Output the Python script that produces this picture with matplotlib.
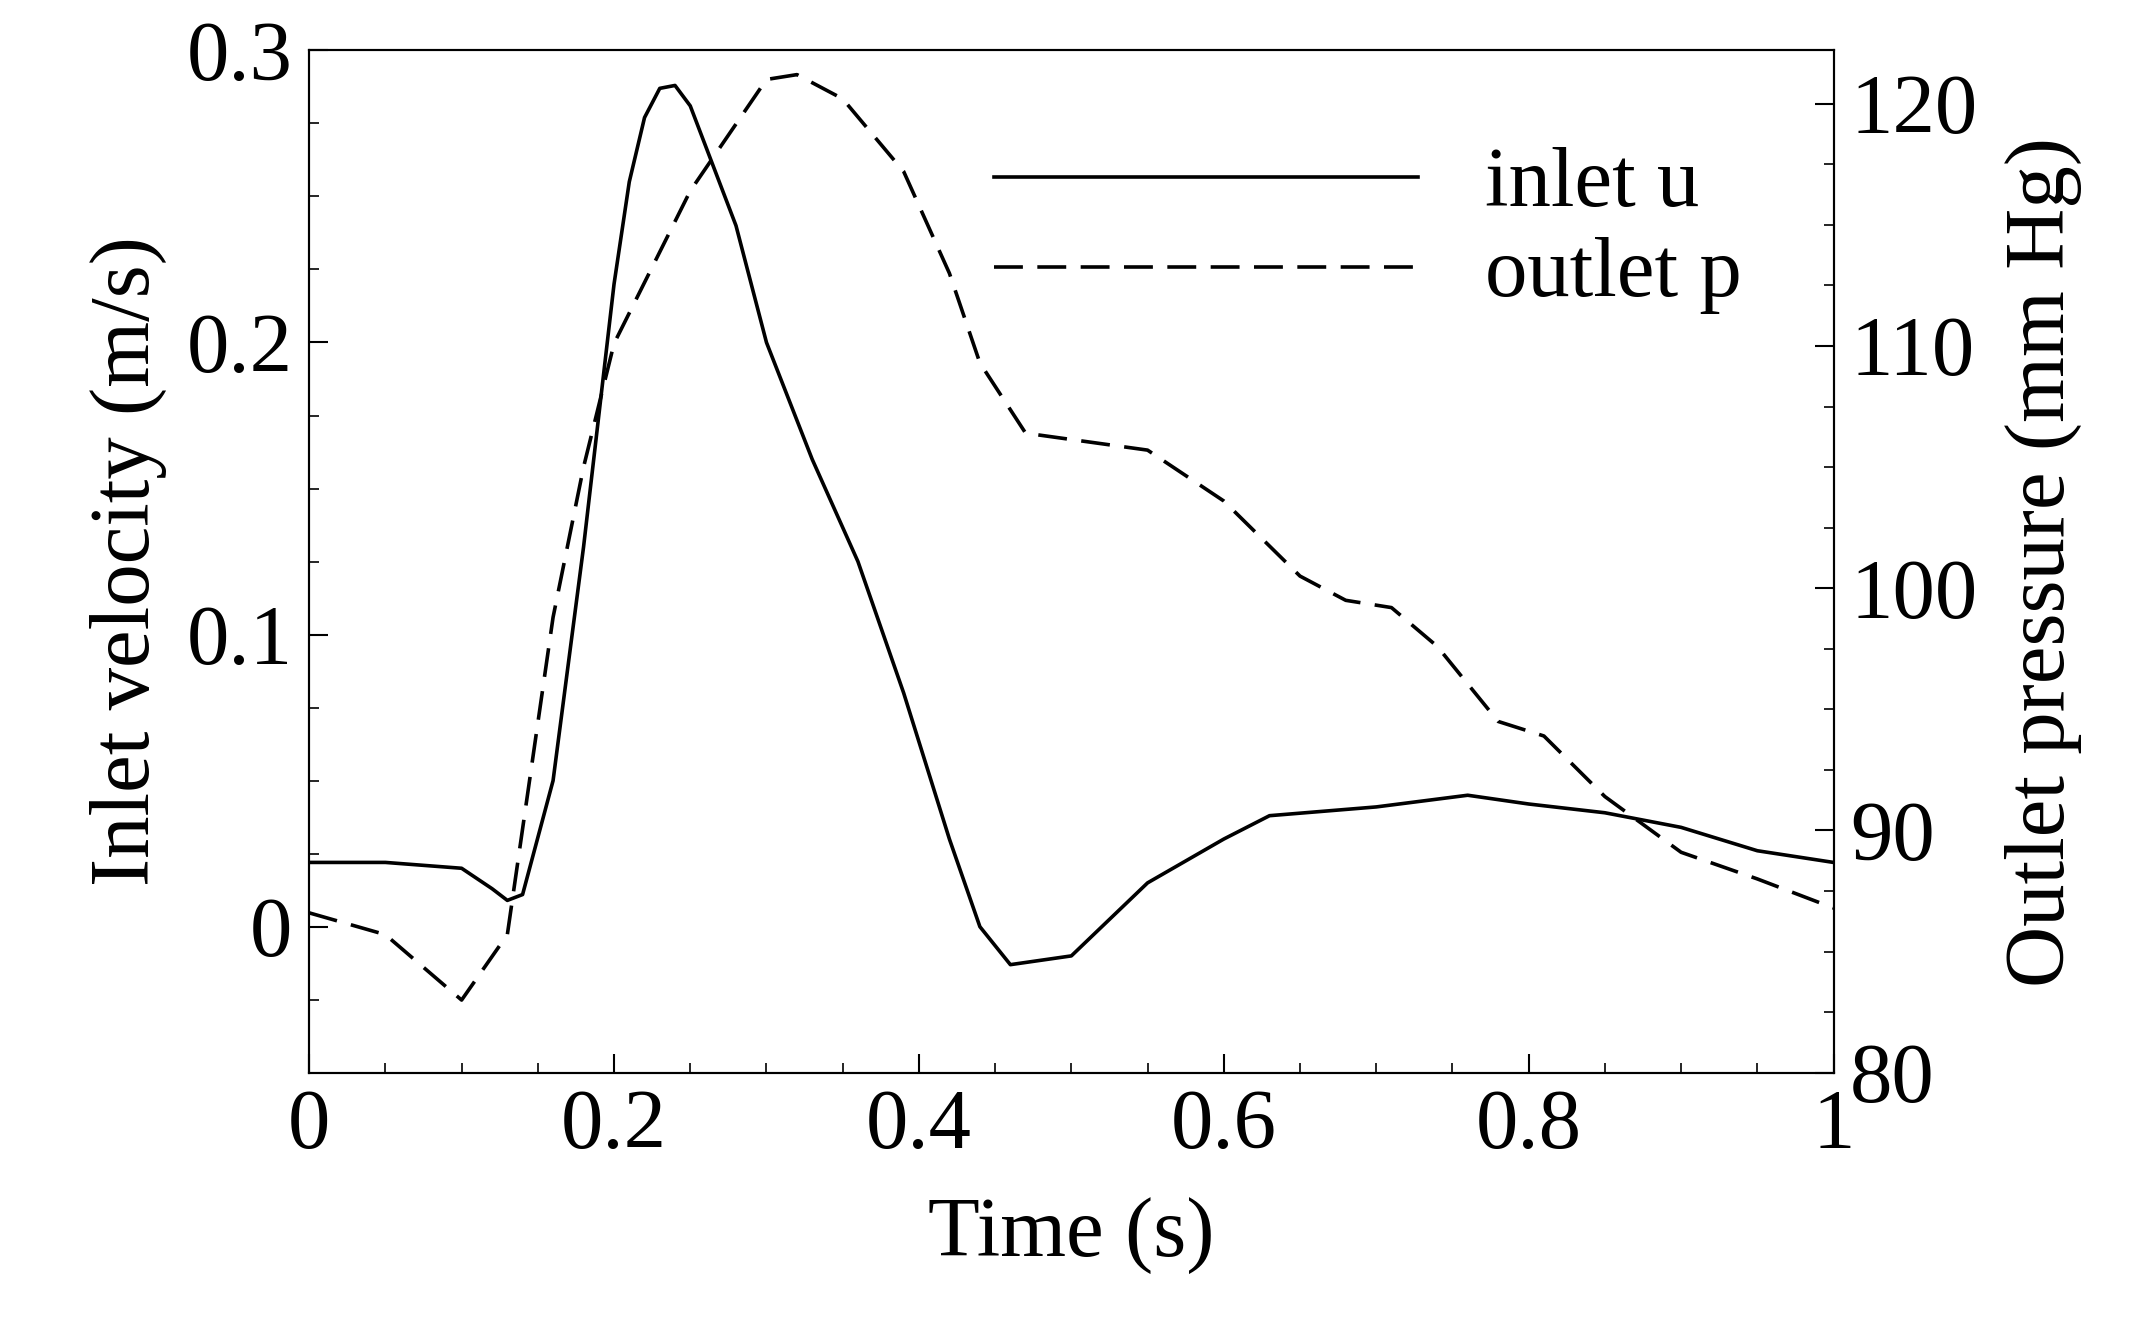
import matplotlib
matplotlib.use('Agg')
import matplotlib.pyplot as plt
from matplotlib.ticker import MultipleLocator, FormatStrFormatter

plt.rcParams['font.family'] = ['Liberation Serif', 'DejaVu Serif']

# ── Data ──────────────────────────────────────────────────────────────────────
t_u = [0.0, 0.05, 0.1, 0.12, 0.13, 0.14, 0.16, 0.18, 0.2, 0.21, 0.22, 0.23,
       0.24, 0.25, 0.28, 0.3, 0.33, 0.36, 0.39, 0.42, 0.44, 0.46, 0.5, 0.55,
       0.6, 0.63, 0.7, 0.76, 0.8, 0.85, 0.9, 0.95, 1.0]
u_in = [0.022, 0.022, 0.02, 0.013, 0.009, 0.011, 0.05, 0.13, 0.22, 0.255,
        0.277, 0.287, 0.288, 0.281, 0.24, 0.2, 0.16, 0.125, 0.08, 0.03, 0.0,
        -0.013, -0.01, 0.015, 0.03, 0.038, 0.041, 0.045, 0.042, 0.039, 0.034,
        0.026, 0.022]

t_p = [0.0, 0.05, 0.1, 0.13, 0.16, 0.18, 0.2, 0.25, 0.3, 0.32, 0.35, 0.39,
       0.42, 0.44, 0.47, 0.55, 0.6, 0.65, 0.68, 0.71, 0.74, 0.78, 0.81, 0.85,
       0.9, 0.95, 1.0]
p_out = [86.6, 85.7, 83.0, 85.7, 98.8, 105.0, 110.1, 116.4, 121.0, 121.2,
         120.2, 117.2, 113.0, 109.3, 106.4, 105.7, 103.6, 100.5, 99.5, 99.2,
         97.6, 94.5, 93.9, 91.4, 89.1, 88.0, 86.8]

FS = 61

fig = plt.figure(figsize=(21.47, 13.26), dpi=100)
ax = fig.add_axes([0.144, 0.191, 0.71, 0.771])
ax2 = ax.twinx()

l1, = ax.plot(t_u, u_in, 'k-', lw=2.6, label='inlet u')
l2, = ax2.plot(t_p, p_out, 'k--', lw=2.6, dashes=(8, 4), label='outlet p')

ax.set_xlim(0, 1)
ax.set_ylim(-0.05, 0.3)
ax2.set_ylim(80, 122.2)

ax.xaxis.set_major_locator(MultipleLocator(0.2))
ax.xaxis.set_minor_locator(MultipleLocator(0.05))
ax.xaxis.set_major_formatter(FormatStrFormatter('%g'))
ax.yaxis.set_major_locator(MultipleLocator(0.1))
ax.yaxis.set_minor_locator(MultipleLocator(0.025))
ax.yaxis.set_major_formatter(FormatStrFormatter('%g'))
ax2.yaxis.set_major_locator(MultipleLocator(10))
ax2.yaxis.set_minor_locator(MultipleLocator(2.5))

for a in (ax, ax2):
    a.tick_params(which='major', direction='in', length=14, width=1.5, labelsize=FS, pad=12)
    a.tick_params(which='minor', direction='in', length=7, width=1.2)
    for s in a.spines.values():
        s.set_linewidth(1.5)
ax.tick_params(axis='x', which='both', top=False)

ax.set_xlabel('Time (s)', fontsize=FS, labelpad=22)
ax.set_ylabel('Inlet velocity (m/s)', fontsize=FS, labelpad=14)
ax2.set_ylabel('Outlet pressure (mm Hg)', fontsize=FS, rotation=90, labelpad=20)

ax.legend(handles=[l1, l2], loc='upper right', frameon=False, fontsize=FS,
          handlelength=5.0, bbox_to_anchor=(0.99, 0.98), labelspacing=0.15,
          handletextpad=0.8)

fig.savefig('out.png', dpi=100)
